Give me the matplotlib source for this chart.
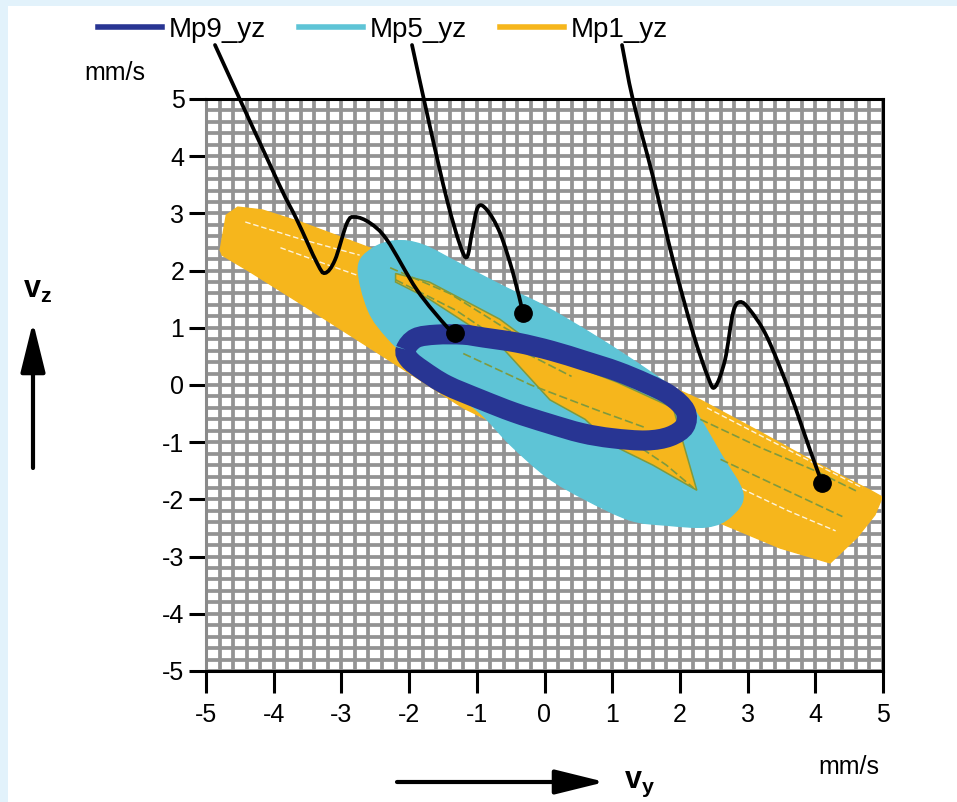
import numpy as np
import matplotlib
matplotlib.use("Agg")
import matplotlib.pyplot as plt
from matplotlib.patches import Rectangle, Polygon, PathPatch
from matplotlib.path import Path
from matplotlib.lines import Line2D
from matplotlib.ticker import FixedLocator, MultipleLocator

plt.rcParams['font.family'] = ['Liberation Sans', 'DejaVu Sans']
plt.rcParams['mathtext.fontset'] = 'custom'
plt.rcParams['mathtext.rm'] = 'Liberation Sans'
plt.rcParams['mathtext.bf'] = 'Liberation Sans:bold'

# ---- data (vy, vz in mm/s)
ticks = [-5, -4, -3, -2, -1, 0, 1, 2, 3, 4, 5]
tick_labels = [str(t) for t in ticks]

# Mp1_yz: outer envelope of the yellow orbit cloud
mp1_vy = [-4.53, -4.17, -3.61, -3.02, -2.5, -1.0, 0.5, 2.3, 3.18, 4.07, 4.81, 4.99,
          4.88, 4.62, 4.22, 3.48, 2.59, 1.5, 0.0, -1.2, -2.13, -2.87, -3.61, -4.35, -4.76, -4.79, -4.70]
mp1_vz = [3.11, 3.06, 2.85, 2.59, 2.36, 1.5, 0.7, -0.26, -0.82, -1.4, -1.84, -1.96,
          -2.27, -2.66, -3.11, -2.85, -2.41, -1.9, -1.1, -0.4, 0.31, 0.87, 1.43, 1.98, 2.27, 2.36, 2.97]
# Mp1_yz: part of the yellow cloud lying on top of Mp5
mp1_in_vy = [-2.2, -1.7, -0.66, 0.08, 1.07, 1.9, 2.25, 1.6, 1.0, 0.6, 0.08, -0.66, -1.7, -2.2]
mp1_in_vz = [1.95, 1.8, 1.15, 0.5, 0.05, -0.4, -1.84, -1.4, -1.05, -0.6, -0.26, 0.7, 1.5, 1.8]

# Mp5_yz: envelope of the cyan orbit cloud
mp5_vy = [-2.75, -2.55, -2.2, -1.8, -1.25, -0.6, 0.0, 0.8, 1.5, 2.0, 2.25, 2.6, 2.93,
          2.75, 2.4, 1.8, 1.26, 0.6, 0.04, -0.5, -0.95, -1.45, -1.85, -2.3, -2.6]
mp5_vz = [2.05, 2.38, 2.52, 2.45, 2.12, 1.72, 1.38, 0.82, 0.28, -0.15, -0.5, -1.2, -1.9,
          -2.3, -2.48, -2.45, -2.36, -2.0, -1.61, -1.05, -0.49, -0.05, 0.3, 0.8, 1.3]

# Mp9_yz: centre line of the dark blue orbit
mp9_vy = [-2.05, -1.9, -1.6, -1.2, -0.9, -0.4, 0.1, 0.6, 1.07, 1.5, 1.85, 2.08, 2.07,
          1.85, 1.5, 1.0, 0.55, 0.05, -0.45, -0.95, -1.45, -1.8, -2.0]
mp9_vz = [0.62, 0.82, 0.88, 0.88, 0.83, 0.74, 0.6, 0.42, 0.24, 0.03, -0.18, -0.45, -0.72,
          -0.9, -0.97, -0.93, -0.84, -0.67, -0.48, -0.25, 0.0, 0.26, 0.45]

# olive edge streaks and white gaps inside the clouds
streaks = [
    ([-2.28, -1.4, -0.66, 0.3], [2.05, 1.6, 1.05, 0.4]),
    ([-2.2, -1.3, -0.66, 0.4], [1.84, 1.3, 0.79, 0.15]),
    ([-1.2, -0.2, 0.8, 1.5], [0.55, 0.0, -0.45, -0.75]),
    ([1.3, 1.8, 2.2], [-1.0, -1.4, -1.8]),
    ([2.3, 3.2, 4.0, 4.6], [-0.6, -1.1, -1.5, -1.85]),
    ([2.6, 3.5, 4.4], [-1.3, -1.8, -2.3]),
]
gaps = [
    ([-4.42, -3.6, -2.73], [2.85, 2.55, 2.27]),
    ([-3.9, -3.2, -2.6], [2.4, 2.1, 1.85]),
    ([2.4, 3.3, 4.2, 4.7], [-0.4, -0.95, -1.5, -1.8]),
    ([2.8, 3.6, 4.3], [-1.75, -2.2, -2.55]),
]

# leader lines from legend entries to the marked points
lead_mp9_vy = [-4.867, -3.951, -3.656, -3.360, -3.242, -3.095, -2.917,
               -2.799, -2.578, -2.326, -1.883, -1.440, -1.322]
lead_mp9_vz = [5.944, 3.584, 2.885, 2.133, 1.958, 2.185, 2.832,
               2.937, 2.832, 2.535, 1.661, 1.014, 0.909]
lead_mp5_vy = [-1.957, -1.691, -1.440, -1.248, -1.145, -1.071, -0.982, -0.849,
               -0.657, -0.465, -0.318]
lead_mp5_vz = [5.944, 4.510, 3.234, 2.448, 2.238, 2.657, 3.112, 3.059,
               2.657, 1.958, 1.259]
lead_mp1_vy = [1.145, 1.307, 1.603, 1.898, 2.194, 2.415, 2.518, 2.666, 2.784, 2.888,
               3.035, 3.287, 3.626, 3.922, 4.099]
lead_mp1_vz = [5.944, 4.983, 3.636, 2.185, 0.909, 0.140, -0.035, 0.437, 1.259, 1.451,
               1.311, 0.839, -0.140, -1.136, -1.713]

c_mp9 = '#283593'
c_mp5 = '#5ec4d6'
c_mp1 = '#f6b61c'
c_streak = '#7f9a3e'


def smooth_path(xs, ys, closed=False):
    # Bezier curve through the given vertices (Catmull-Rom tangents)
    p = np.column_stack([xs, ys]).astype(float)
    n = len(p)
    if closed:
        p = np.vstack([p, p[:1]])
    verts = [p[0]]
    codes = [Path.MOVETO]
    for i in range(len(p) - 1):
        if closed:
            a = p[(i - 1) % n]
            d = p[(i + 2) % n]
        else:
            a = p[max(i - 1, 0)]
            d = p[min(i + 2, n - 1)]
        b, c = p[i], p[i + 1]
        verts += [b + (c - a) / 6, c - (d - b) / 6, c]
        codes += [Path.CURVE4] * 3
    return Path(verts, codes)


W, H = 957, 802
fig = plt.figure(figsize=(W / 100, H / 100), dpi=100)
fig.patch.set_facecolor('#e2f2fb')
fig.add_artist(Rectangle((8 / W, 0), 1, 1 - 6 / H, transform=fig.transFigure,
                         facecolor='white', edgecolor='none', zorder=0))

ax = fig.add_axes([206 / W, 1 - 671 / H, 677 / W, 572 / H])
ax.set_facecolor('white')
ax.set_xlim(-5, 5)
ax.set_ylim(-5, 5)

# fine grid, 0.2 mm/s
ax.xaxis.set_minor_locator(MultipleLocator(0.2))
ax.yaxis.set_minor_locator(MultipleLocator(0.2))
ax.grid(which='both', color='#939393', linewidth=2.7, zorder=0)
ax.set_axisbelow(True)
ax.tick_params(which='minor', length=0)

ax.xaxis.set_major_locator(FixedLocator(ticks))
ax.yaxis.set_major_locator(FixedLocator(ticks))
ax.set_xticklabels(tick_labels)
ax.set_yticklabels(tick_labels)
ax.tick_params(axis='x', which='major', direction='out', length=16, width=2.2,
               pad=7, labelsize=18)
ax.tick_params(axis='y', which='major', direction='out', length=12.5, width=2.2,
               pad=3, labelsize=18)
for side in ['top', 'right', 'bottom']:
    ax.spines[side].set_linewidth(2.2)
    ax.spines[side].set_color('black')
ax.spines['left'].set_color('#8a8a8a')
ax.spines['left'].set_linewidth(2.2)

# clouds
ax.add_patch(Polygon(np.column_stack([mp1_vy, mp1_vz]), closed=True,
                     facecolor=c_mp1, edgecolor=c_mp1, linewidth=1, zorder=2))
for gx, gy in gaps:
    ax.plot(gx, gy, color='white', linewidth=1.0, alpha=0.85,
            linestyle=(0, (4, 2)), zorder=2.1)
ax.add_patch(PathPatch(smooth_path(mp5_vy, mp5_vz, closed=True),
                       facecolor=c_mp5, edgecolor=c_mp5, linewidth=1, zorder=3))
ax.add_patch(Polygon(np.column_stack([mp1_in_vy, mp1_in_vz]), closed=True,
                     facecolor=c_mp1, edgecolor=c_streak, linewidth=1.1, zorder=3.5))
for sx, sy in streaks:
    ax.plot(sx, sy, color=c_streak, linewidth=1.2, linestyle=(0, (5, 2)), zorder=3.6)
ax.add_patch(PathPatch(smooth_path(mp9_vy, mp9_vz, closed=True),
                       facecolor='none', edgecolor=c_mp9, linewidth=14.5, zorder=4))

# leader lines and end points
for lx, ly in [(lead_mp9_vy, lead_mp9_vz), (lead_mp5_vy, lead_mp5_vz),
               (lead_mp1_vy, lead_mp1_vz)]:
    ax.add_patch(PathPatch(smooth_path(lx, ly), facecolor='none', edgecolor='black',
                           linewidth=2.7, capstyle='round', clip_on=False, zorder=6))
    ax.plot(lx[-1], ly[-1], 'o', color='black', markersize=12.5, zorder=7)

# legend
handles = [Line2D([], [], color=c_mp9, linewidth=4),
           Line2D([], [], color=c_mp5, linewidth=4),
           Line2D([], [], color=c_mp1, linewidth=4)]
fig.legend(handles, ['Mp9_yz', 'Mp5_yz', 'Mp1_yz'], loc='center',
           bbox_to_anchor=(383 / W, 1 - 30 / H), ncol=3, frameon=False,
           fontsize=20, handlelength=2.3, handletextpad=0.25, columnspacing=1.2)

# units and direction arrows
fig.text(115 / W, 1 - 73 / H, 'mm/s', fontsize=18, ha='center', va='center')
fig.text(849 / W, 1 - 767 / H, 'mm/s', fontsize=18, ha='center', va='center')
fig.text(38 / W, 1 - 290 / H, r'$\mathbf{v_z}$', fontsize=22, ha='center', va='center')
fig.text(640 / W, 1 - 784 / H, r'$\mathbf{v_y}$', fontsize=22, ha='center', va='center')
ax.annotate('', xy=(33, H - 322), xytext=(33, H - 468), xycoords='figure pixels',
            textcoords='figure pixels',
            arrowprops=dict(arrowstyle='-|>,head_length=1.7,head_width=0.42',
                            color='black', linewidth=3, mutation_scale=18,
                            shrinkA=0, shrinkB=0))
ax.annotate('', xy=(605, H - 782), xytext=(397, H - 782), xycoords='figure pixels',
            textcoords='figure pixels',
            arrowprops=dict(arrowstyle='-|>,head_length=1.7,head_width=0.42',
                            color='black', linewidth=3, mutation_scale=18,
                            shrinkA=0, shrinkB=0))

fig.savefig('out.png', dpi=100)
